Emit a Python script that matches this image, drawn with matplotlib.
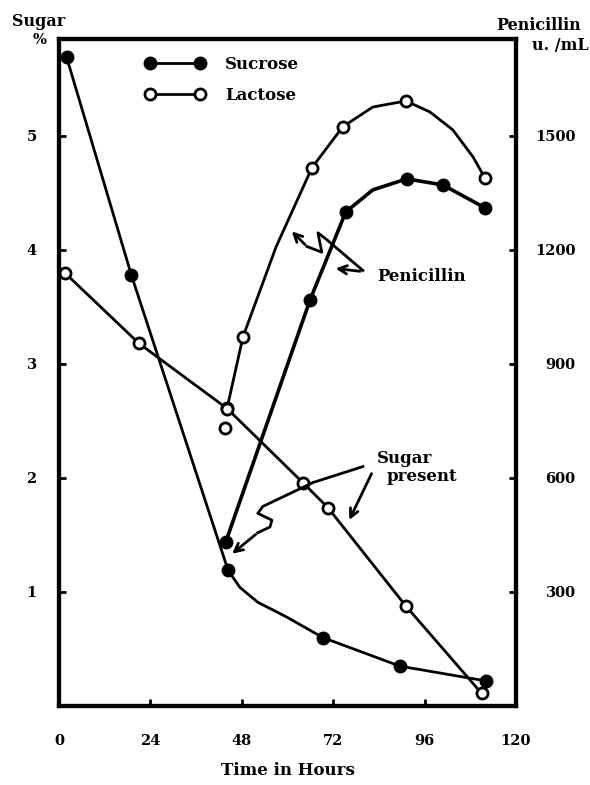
import matplotlib
matplotlib.use("Agg")
import matplotlib.pyplot as plt

# time axis
hour_ticks = [0, 24, 48, 72, 96, 120]
sugar_ticks = [1, 2, 3, 4, 5]
pen_ticks = [300, 600, 900, 1200, 1500]

# sugar %, sucrose run (indices 3-5 are traced points on the drawn curve)
suc_sugar_h = [2, 19, 44.4, 47.5, 52.2, 59.8, 69.3, 89.5, 112.1]
suc_sugar_v = [5.69, 3.78, 1.19, 1.04, 0.91, 0.78, 0.60, 0.35, 0.22]
suc_sugar_mk = [0, 1, 2, 6, 7, 8]

# sugar %, lactose run
lac_sugar_h = [1.5, 21, 44.1, 64, 70.6, 91, 111]
lac_sugar_v = [3.80, 3.18, 2.61, 1.96, 1.74, 0.88, 0.11]

# penicillin u./mL, sucrose run
suc_pen_h = [43.8, 65.9, 75.3, 82.4, 91.3, 100.8, 111.8]
suc_pen_v = [432, 1068, 1300, 1358, 1387, 1371, 1311]
suc_pen_mk = [0, 1, 2, 4, 5, 6]

# penicillin u./mL, lactose run
lac_pen_h = [44.1, 48.3, 57, 66.4, 74.5, 82.4, 91.1, 97.4, 103.4, 108.7, 111.8]
lac_pen_v = [782, 971, 1208, 1416, 1524, 1576, 1592, 1563, 1516, 1445, 1390]
lac_pen_mk = [0, 1, 3, 4, 6, 10]
lac_pen_extra_h = [43.6]
lac_pen_extra_v = [731]

sugar_max = 5.85
serif = "DejaVu Serif"
plt.rcParams["font.family"] = serif
plt.rcParams["font.weight"] = "bold"

fig = plt.figure(figsize=(5.9, 7.85), dpi=100)
ax = fig.add_axes([59 / 590, 79 / 785, 457 / 590, 667 / 785])
ax2 = ax.twinx()

filled = dict(color="black", marker="o", markersize=9, markerfacecolor="black",
              markeredgecolor="black", lw=2.0)
hollow = dict(color="black", marker="o", markersize=8, markerfacecolor="white",
              markeredgecolor="black", markeredgewidth=2, lw=2.0)

ln_s, = ax.plot(suc_sugar_h, suc_sugar_v, markevery=suc_sugar_mk, label="Sucrose", **filled)
ln_l, = ax.plot(lac_sugar_h, lac_sugar_v, label="Lactose", **hollow)
ax2.plot(suc_pen_h, suc_pen_v, markevery=suc_pen_mk, **dict(filled, lw=2.6))
ax2.plot(lac_pen_h, lac_pen_v, markevery=lac_pen_mk, **hollow)
ax2.plot(lac_pen_extra_h, lac_pen_extra_v, ls="none", **{k: v for k, v in hollow.items() if k != "lw"})

ax.set_xlim(0, 120)
ax.set_ylim(0, sugar_max)
ax2.set_ylim(0, sugar_max * 300)
ax.set_xticks(hour_ticks)
ax.set_yticks(sugar_ticks)
ax2.set_yticks(pen_ticks)

for a in (ax, ax2):
    for s in a.spines.values():
        s.set_linewidth(3)
ax.tick_params(axis="both", direction="in", length=5, width=2, labelsize=10.5)
ax.tick_params(axis="x", pad=20)
ax.tick_params(axis="y", pad=16)
ax2.tick_params(axis="y", direction="in", length=5, width=2, labelsize=10.5, pad=43)
for t in ax2.get_yticklabels():
    t.set_horizontalalignment("right")
for t in ax.get_xticklabels() + ax.get_yticklabels() + ax2.get_yticklabels():
    t.set_fontweight("bold")

ax.set_xlabel("Time in Hours", fontsize=12, fontweight="bold", labelpad=10)

fig.text(12 / 590, 1 - 22 / 785, "Sugar", fontsize=11.5, fontweight="bold", va="center")
fig.text(40 / 590, 1 - 40 / 785, "%", fontsize=10.5, fontweight="bold", va="center", ha="center")
fig.text(581 / 590, 1 - 26 / 785, "Penicillin", fontsize=11.5, fontweight="bold", va="center", ha="right")
fig.text(589 / 590, 1 - 45 / 785, "u. /mL", fontsize=11.5, fontweight="bold", va="center", ha="right")

ax.legend(handles=[ln_s, ln_l], loc="upper left", bbox_to_anchor=(0.155, 0.997),
          frameon=False, numpoints=2, handlelength=3.6, handletextpad=1.2,
          labelspacing=0.85, prop=dict(family=serif, weight="bold", size=12))

# annotations
arrow = dict(arrowstyle="->", lw=2.0, color="black", mutation_scale=15)
ax.text(83.5, 3.77, "Penicillin", fontsize=12, fontweight="bold", va="center")
ax.annotate("", xy=(71.9, 3.84), xytext=(79.8, 3.81), arrowprops=arrow)
sq_x = [79.8, 70.3, 68.0, 69.0, 65.1]
sq_y = [3.82, 4.09, 4.15, 3.98, 4.03]
ax.plot(sq_x, sq_y, color="black", lw=2.0)
ax.annotate("", xy=(60.6, 4.18), xytext=(65.1, 4.03), arrowprops=arrow)

ax.text(83.5, 2.17, "Sugar", fontsize=12, fontweight="bold", va="center")
ax.text(86.1, 2.01, "present", fontsize=12, fontweight="bold", va="center")
ax.annotate("", xy=(75.9, 1.61), xytext=(82.4, 2.06), arrowprops=arrow)
sq2_x = [79.8, 66.7, 53.5, 52.2, 55.9, 55.4, 52.2]
sq2_y = [2.10, 1.96, 1.75, 1.69, 1.63, 1.57, 1.52]
ax.plot(sq2_x, sq2_y, color="black", lw=2.0)
ax.annotate("", xy=(44.9, 1.32), xytext=(52.2, 1.52), arrowprops=arrow)

fig.savefig("out.png", dpi=100)
